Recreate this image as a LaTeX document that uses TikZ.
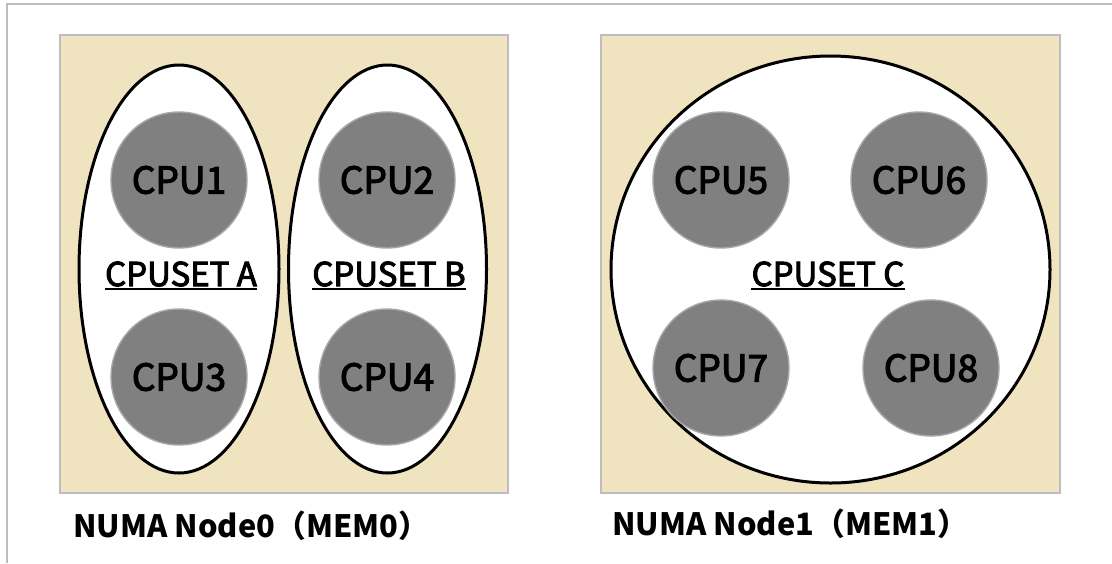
\documentclass[tikz,border=0pt]{standalone}
\usepackage{fontspec}
\setmainfont{Noto Sans CJK JP}
\newfontfamily\cpufont{Noto Sans CJK JP}[FakeBold=3]
\usetikzlibrary{shapes.geometric}
\definecolor{numabg}{HTML}{F0E3C0}
\definecolor{numaline}{HTML}{BDBDBD}
\definecolor{cpufill}{HTML}{808080}
\definecolor{cpuline}{HTML}{A8A8A8}
\begin{document}
\begin{tikzpicture}[x=0.5pt,y=-0.5pt,
    numa/.style={draw=numaline,fill=numabg,line width=0.7pt,minimum height=229pt,inner sep=0},
    cpuset/.style={draw=black,fill=white,ellipse,line width=1.5pt,inner sep=0},
    cpu/.style={circle,draw=cpuline,fill=cpufill,line width=0.7pt,minimum size=68pt,inner sep=0,font=\cpufont\fontsize{18.5}{21}\selectfont},
    setname/.style={inner xsep=0,inner ysep=1pt,font=\cpufont\fontsize{16.5}{19}\selectfont},
    numaname/.style={anchor=base west,inner sep=0,font=\fontsize{15.4}{18}\selectfont\bfseries}]
    \useasboundingbox (0,0) rectangle (1112,563);
    \draw[numaline,line width=0.8pt] (1112,4) -- (7,4) -- (7,563);
    \node[numa,minimum width=224pt] (node0) at (284,264) {};
    \node[numa,minimum width=229.5pt] (node1) at (830.5,264) {};
    \node[cpuset,minimum width=100pt,minimum height=204pt] (seta) at (179,269) {};
    \node[cpuset,minimum width=99pt,minimum height=204pt] (setb) at (387.5,269) {};
    \node[cpuset,minimum width=219.5pt,minimum height=213.5pt] (setc) at (830.5,269.5) {};
    \node[cpu] (cpu1) at (179,180) {CPU1};
    \node[cpu] (cpu2) at (387,180) {CPU2};
    \node[cpu] (cpu3) at (179,377) {CPU3};
    \node[cpu] (cpu4) at (387,377) {CPU4};
    \node[cpu] (cpu5) at (721,180) {CPU5};
    \node[cpu] (cpu6) at (919,180) {CPU6};
    \node[cpu] (cpu7) at (721,368) {CPU7};
    \node[cpu] (cpu8) at (931,368) {CPU8};
    \node[setname] (labela) at (181,274) {CPUSET A};
    \node[setname] (labelb) at (389,274) {CPUSET B};
    \node[setname] (labelc) at (828,274) {CPUSET C};
    \draw[line width=1pt] (labela.south west) -- (labela.south east);
    \draw[line width=1pt] (labelb.south west) -- (labelb.south east);
    \draw[line width=1pt] (labelc.south west) -- (labelc.south east);
    \node[numaname] (name0) at (73,537) {NUMA Node0（MEM0）};
    \node[numaname] (name1) at (612,535) {NUMA Node1（MEM1）};
\end{tikzpicture}
\end{document}
